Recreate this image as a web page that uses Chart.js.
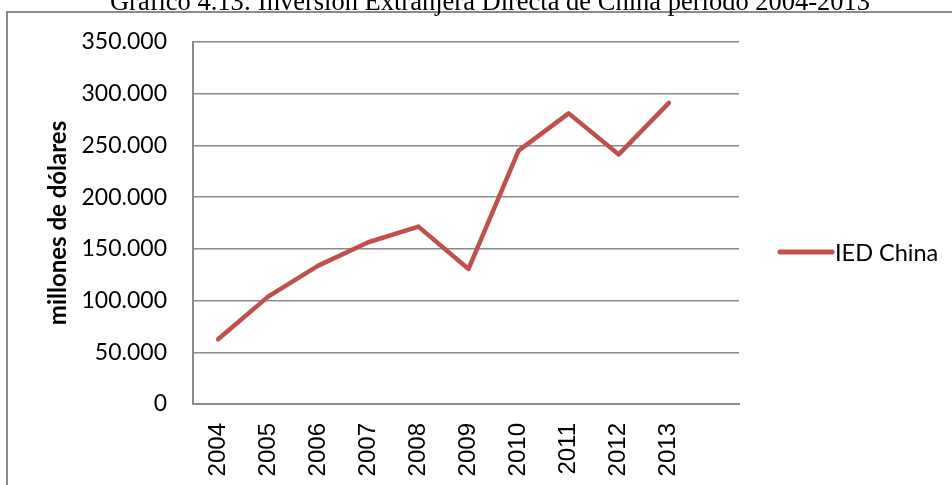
<!DOCTYPE html>
<html>
<head>
<meta charset="utf-8">
<script src="https://cdn.jsdelivr.net/npm/chart.js@4/dist/chart.umd.min.js"></script>
<style>
  html, body { margin: 0; padding: 0; background: #fff; }
  #wrap { width: 952px; height: 485px; position: relative; }
</style>
</head>
<body>
<div id="wrap"><canvas id="fdiChart" width="952" height="485"></canvas></div>
<script>
// Data
const YEARS = [2004, 2005, 2006, 2007, 2008, 2009, 2010, 2011, 2012, 2013];
const IED_CHINA = [62600, 103800, 133800, 156400, 171500, 130600, 245000, 281000, 241300, 291200];
const Y_TICKS = [0, 50000, 100000, 150000, 200000, 250000, 300000, 350000];

const TITLE_TEXT = 'Gráfico 4.13: Inversión Extranjera Directa de China período 2004-2013';
const SERIES_LABEL = 'IED China';
const Y_TITLE = 'millones de dólares';

const LINE_COLOR = '#C0504D';
const GRID_COLOR = '#8a8a8a';
const BODY_FONT = 'Lato';

// thousands separator with a dot (es)
function fmtEs(v) {
    return String(v).replace(/\B(?=(\d{3})+(?!\d))/g, '.');
}

// Outer frame, clipped title and legend
const framePlugin = {
    id: 'frame',
    beforeDraw(chart) {
        const ctx = chart.ctx;
        ctx.save();
        ctx.strokeStyle = GRID_COLOR;
        ctx.lineWidth = 2;
        ctx.strokeRect(7, 12, 2000, 2000);
        ctx.fillStyle = '#000';
        ctx.font = '26.5px "Liberation Serif"';
        ctx.textAlign = 'center';
        ctx.textBaseline = 'alphabetic';
        ctx.fillText(TITLE_TEXT, 490, 10);
        ctx.restore();
    },
    afterDraw(chart) {
        const ctx = chart.ctx;
        const ds = chart.data.datasets[0];
        ctx.save();
        ctx.strokeStyle = ds.borderColor;
        ctx.lineWidth = 5;
        ctx.lineCap = 'round';
        ctx.beginPath();
        ctx.moveTo(780, 252);
        ctx.lineTo(832, 252);
        ctx.stroke();
        ctx.fillStyle = '#000';
        ctx.font = '23.5px ' + BODY_FONT;
        ctx.textAlign = 'left';
        ctx.textBaseline = 'middle';
        ctx.fillText(ds.label, 835, 253);
        ctx.restore();
    }
};

const ctx = document.getElementById('fdiChart').getContext('2d');
new Chart(ctx, {
    type: 'line',
    data: {
        datasets: [{
            label: SERIES_LABEL,
            data: YEARS.map((yr, i) => ({ x: yr, y: IED_CHINA[i] })),
            borderColor: LINE_COLOR,
            backgroundColor: LINE_COLOR,
            borderWidth: 4.5,
            borderCapStyle: 'round',
            borderJoinStyle: 'round',
            pointRadius: 0,
            tension: 0,
            fill: false
        }]
    },
    options: {
        responsive: false,
        animation: false,
        layout: { padding: { top: 42, right: 213, left: 0, bottom: 0 } },
        plugins: {
            legend: { display: false },
            tooltip: { enabled: false }
        },
        scales: {
            x: {
                type: 'linear',
                min: 2003.5,
                max: 2014.4,
                afterBuildTicks: (scale) => { scale.ticks = YEARS.map(v => ({ value: v })); },
                afterFit: (scale) => { scale.height = 81; },
                grid: { display: false, drawTicks: false },
                border: { display: true, color: GRID_COLOR, width: 2 },
                ticks: {
                    autoSkip: false,
                    minRotation: 90,
                    maxRotation: 90,
                    padding: 19,
                    color: '#000',
                    font: { family: '"Liberation Sans"', size: 24 },
                    callback: (v) => String(v)
                }
            },
            y: {
                min: 0,
                max: 350000,
                afterBuildTicks: (scale) => { scale.ticks = Y_TICKS.map(v => ({ value: v })); },
                afterFit: (scale) => { scale.width = 193; },
                grid: { color: GRID_COLOR, lineWidth: 1.5, drawTicks: false },
                border: { display: true, color: GRID_COLOR, width: 2 },
                ticks: {
                    padding: 26,
                    color: '#000',
                    font: { family: BODY_FONT, size: 23 },
                    callback: (v) => fmtEs(v)
                },
                title: {
                    display: true,
                    text: Y_TITLE,
                    color: '#000',
                    font: { family: BODY_FONT, size: 24, weight: 'bold' },
                    padding: { top: 44, bottom: 0 }
                }
            }
        }
    },
    plugins: [framePlugin]
});
</script>
</body>
</html>
